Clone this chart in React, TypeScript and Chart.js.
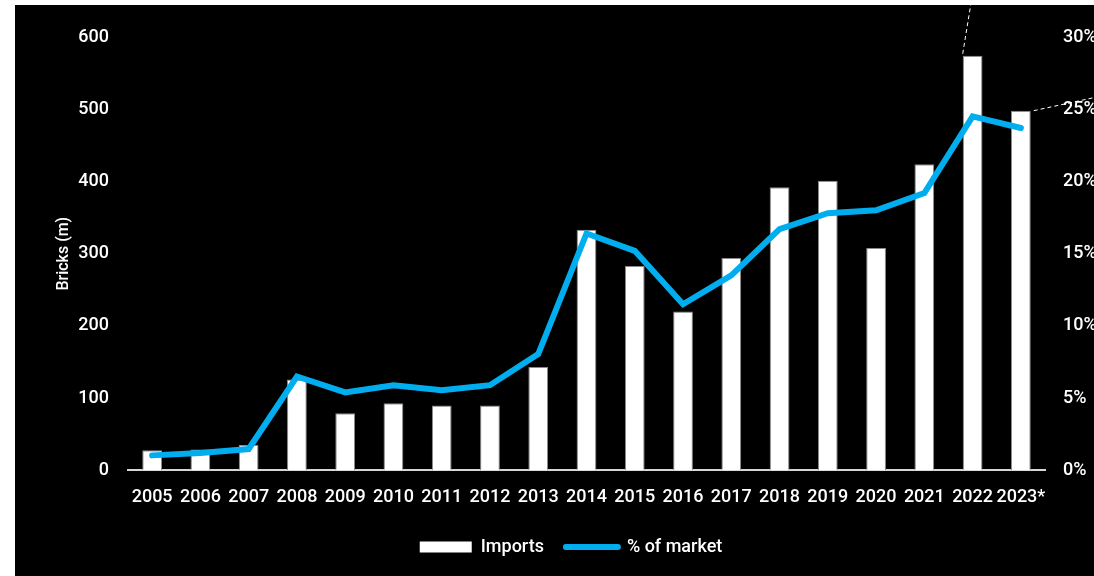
import React, { useEffect, useRef } from "react";
import { Chart, registerables } from "chart.js";

Chart.register(...registerables);

const years = [
  "2005", "2006", "2007", "2008", "2009", "2010", "2011", "2012", "2013", "2014",
  "2015", "2016", "2017", "2018", "2019", "2020", "2021", "2022", "2023*",
];
const imports = [28, 29, 35, 126, 79, 93, 90, 90, 143, 333, 283, 220, 294, 392, 401, 308, 424, 574, 498];
const marketShare = [1.04, 1.2, 1.48, 6.5, 5.4, 5.9, 5.55, 5.9, 8.05, 16.4, 15.2, 11.5, 13.5, 16.7, 17.8, 18.0, 19.2, 24.5, 23.7];
const leftTicks = [0, 100, 200, 300, 400, 500, 600];
const rightTicks = [0, 5, 10, 15, 20, 25, 30];

const FONT = "'Liberation Sans Narrow', Roboto, sans-serif";
const WEIGHT = "500";
const BLUE = "#00AEEF";

const dashedLeaders = {
  id: "dashedLeaders",
  afterDatasetsDraw(chart: any) {
    const meta = chart.getDatasetMeta(0);
    const b22 = meta.data[17];
    const b23 = meta.data[18];
    if (!b22 || !b23) return;
    const ctx = chart.ctx;
    ctx.save();
    ctx.strokeStyle = "#ffffff";
    ctx.lineWidth = 1;
    ctx.setLineDash([4, 3]);
    const x1 = b22.x - b22.width / 2;
    const y1 = b22.y - 2;
    ctx.beginPath();
    ctx.moveTo(x1, y1);
    ctx.lineTo(x1 + (y1 * 9) / 55, 0);
    ctx.stroke();
    const x2 = b23.x + b23.width / 2 + 3;
    const y2 = b23.y;
    const w = chart.width;
    ctx.beginPath();
    ctx.moveTo(x2, y2);
    ctx.lineTo(w, y2 - ((w - x2) * 13) / 60);
    ctx.stroke();
    ctx.restore();
  },
};

export default function App() {
  const ref = useRef<HTMLCanvasElement | null>(null);

  useEffect(() => {
    document.body.style.margin = "0";
    if (!ref.current) return;
    const font = { family: FONT, size: 18, weight: WEIGHT as any };
    const chart = new Chart(ref.current, {
      type: "bar",
      data: {
        labels: years,
        datasets: [
          {
            type: "bar",
            label: "Imports",
            data: imports,
            backgroundColor: "#ffffff",
            borderColor: "#8a8a8a",
            borderWidth: 1,
            barPercentage: 0.82,
            categoryPercentage: 0.5,
            yAxisID: "y",
            order: 2,
          },
          {
            type: "line",
            label: "% of market",
            data: marketShare,
            borderColor: BLUE,
            backgroundColor: BLUE,
            borderWidth: 6,
            borderCapStyle: "round",
            borderJoinStyle: "miter",
            pointRadius: 0,
            tension: 0,
            yAxisID: "y1",
            order: 1,
          },
        ],
      },
      options: {
        animation: false,
        responsive: false,
        maintainAspectRatio: false,
        layout: { padding: { left: 33, top: 32, right: 0, bottom: 10 } },
        plugins: {
          tooltip: { enabled: false },
          legend: {
            position: "bottom",
            labels: {
              color: "#ffffff",
              font,
              usePointStyle: true,
              pointStyleWidth: 52,
              boxHeight: 11,
              padding: 22,
              generateLabels: (c: any) =>
                c.data.datasets.map((ds: any, i: number) => ({
                  text: ds.label,
                  fillStyle: i === 0 ? "#ffffff" : BLUE,
                  strokeStyle: i === 0 ? "#ffffff" : BLUE,
                  lineWidth: i === 0 ? 0 : 6,
                  lineCap: "round",
                  pointStyle: i === 0 ? "rect" : "line",
                  fontColor: "#ffffff",
                  hidden: false,
                  datasetIndex: i,
                })),
            },
          },
        },
        scales: {
          x: {
            grid: { display: false, drawTicks: false },
            border: { display: true, color: "#d6d6d6", width: 2 },
            afterFit: (s: any) => {
              s.height = s.height - 8;
            },
            ticks: {
              color: "#ffffff",
              font,
              padding: 16,
              maxRotation: 0,
              autoSkip: false,
            },
          },
          y: {
            position: "left",
            min: 0,
            max: 600,
            afterBuildTicks: (s: any) => {
              s.ticks = leftTicks.map((v) => ({ value: v }));
            },
            afterFit: (s: any) => {
              s.width = 80;
            },
            grid: { display: false, drawTicks: false },
            border: { display: false },
            ticks: {
              color: "#ffffff",
              font,
              padding: 19,
            },
            title: {
              display: true,
              text: "Bricks (m)",
              color: "#ffffff",
              font: { family: FONT, size: 16, weight: WEIGHT as any },
              padding: { top: 6, bottom: 0 },
            },
          },
          y1: {
            position: "right",
            min: 0,
            max: 30,
            afterBuildTicks: (s: any) => {
              s.ticks = rightTicks.map((v) => ({ value: v }));
            },
            afterFit: (s: any) => {
              s.width = 49;
            },
            grid: { display: false, drawTicks: false },
            border: { display: false },
            ticks: {
              color: "#ffffff",
              font,
              padding: 18,
              callback: (v: any) => v + "%",
            },
          },
        },
      },
      plugins: [dashedLeaders],
    });
    return () => chart.destroy();
  }, []);

  return (
    <div style={{ position: "fixed", left: 0, top: 0, width: 1094, height: 576, background: "#ffffff", overflow: "hidden" }}>
      <div style={{ position: "absolute", left: 15, top: 5, width: 1079, height: 571, background: "#000000" }}>
        <canvas ref={ref} width={1079} height={571} style={{ display: "block", width: 1079, height: 571 }} />
      </div>
    </div>
  );
}
